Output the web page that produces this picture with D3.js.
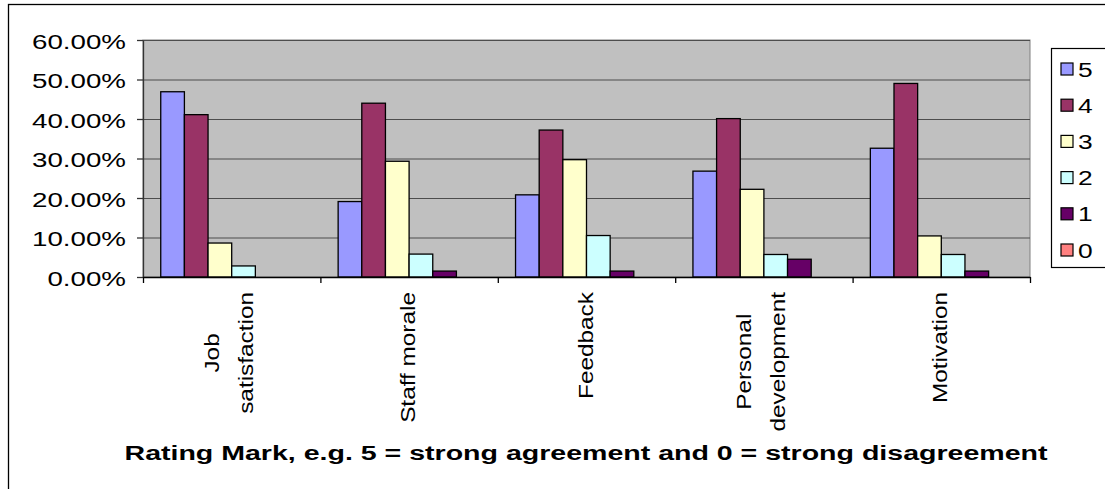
<!DOCTYPE html>
<html>
<head>
<meta charset="utf-8">
<script src="https://cdn.jsdelivr.net/npm/d3@7"></script>
<style>
  body { margin: 0; background: #fff; overflow: hidden; }
  svg text { font-family: "Liberation Sans", Arial, sans-serif; fill: #000; }
</style>
</head>
<body>
<div id="chart"></div>
<script>
// categories along the x axis, and how their labels wrap
const categories = ["Job satisfaction", "Staff morale", "Feedback", "Personal development", "Motivation"];
const categoryLines = [["Job", "satisfaction"], ["Staff morale"], ["Feedback"], ["Personal", "development"], ["Motivation"]];

// rating marks (legend order)
const ratings = ["5", "4", "3", "2", "1", "0"];
const ratingColors = ["#9999ff", "#993366", "#ffffcc", "#ccffff", "#660066", "#ff8080"];

// share of answers per rating, one value per category
const rating5 = [0.469, 0.191, 0.208, 0.268, 0.326];
const rating4 = [0.411, 0.440, 0.372, 0.401, 0.490];
const rating3 = [0.086, 0.293, 0.297, 0.222, 0.104];
const rating2 = [0.028, 0.058, 0.105, 0.057, 0.057];
const rating1 = [0.000, 0.015, 0.015, 0.045, 0.015];
const rating0 = [0.000, 0.000, 0.000, 0.000, 0.000];

const yTicks = [0, 0.1, 0.2, 0.3, 0.4, 0.5, 0.6];
const xTitle = "Rating Mark, e.g. 5 = strong agreement and 0 = strong disagreement";

const series = [rating5, rating4, rating3, rating2, rating1, rating0];

function drawChart() {
	const width = 1105, height = 489;
	const plot = {left: 143, right: 1030, top: 40, bottom: 277};
	const sx = 1.32; // the original text is wide, stretch it along the reading direction

	const svg = d3.select("#chart")
		.append("svg")
			.attr("width", width)
			.attr("height", height);

	// outer chart border
	svg.append("rect")
		.attr("x", 8.5).attr("y", 4.5)
		.attr("width", 1200).attr("height", 600)
		.attr("fill", "none")
		.attr("stroke", "#000")
		.attr("stroke-width", 1.3);

	const x0 = d3.scaleBand()
		.domain(categories)
		.range([plot.left, plot.right]);

	// 6 bars per group, gap width 150%
	const x1 = d3.scaleBand()
		.domain(ratings)
		.range([0, x0.bandwidth()])
		.paddingOuter(0.75);

	const y = d3.scaleLinear()
		.domain([0, 0.6])
		.range([plot.bottom, plot.top]);

	// plot area
	svg.append("rect")
		.attr("x", plot.left).attr("y", plot.top)
		.attr("width", plot.right - plot.left)
		.attr("height", plot.bottom - plot.top)
		.attr("fill", "#c0c0c0")
		.attr("stroke", "#808080");

	// gridlines
	svg.append("g")
		.selectAll("line")
		.data(yTicks.slice(1))
		.enter()
		.append("line")
			.attr("x1", plot.left).attr("x2", plot.right)
			.attr("y1", d => y(d) + 0.5).attr("y2", d => y(d) + 0.5)
			.attr("stroke", "#4d4d4d")
			.attr("stroke-width", 1.2);

	// bars
	const groups = svg.append("g")
		.selectAll("g")
		.data(categories)
		.enter()
		.append("g")
			.attr("transform", d => "translate(" + x0(d) + ",0)");

	groups.selectAll("rect")
		.data((c, ci) => ratings.map((r, ri) => ({rating: r, color: ratingColors[ri], value: series[ri][ci]}))
			.filter(d => d.value > 0))
		.enter()
		.append("rect")
			.attr("x", d => x1(d.rating))
			.attr("y", d => y(d.value))
			.attr("width", x1.bandwidth())
			.attr("height", d => y(0) - y(d.value))
			.attr("fill", d => d.color)
			.attr("stroke", "#000")
			.attr("stroke-width", 1.3);

	// y axis
	const yAxis = svg.append("g")
		.attr("transform", "translate(" + plot.left + ",0)")
		.call(d3.axisLeft(y).tickValues(yTicks).tickFormat(d3.format(".2%")).tickSize(6).tickSizeOuter(0));
	yAxis.select(".domain").attr("stroke", "#333").attr("stroke-width", 1.3);
	yAxis.selectAll(".tick line").attr("stroke", "#333").attr("stroke-width", 1.3);
	yAxis.selectAll(".tick text")
		.attr("x", null).attr("dy", null)
		.attr("transform", "translate(-17,8) scale(" + sx + ",1)")
		.style("font-size", "21px")
		.style("font-family", '"Liberation Sans", Arial, sans-serif');

	// x axis, ticks sit between the categories
	const xEdge = d3.scaleLinear().domain([0, categories.length]).range([plot.left, plot.right]);
	const xAxis = svg.append("g")
		.attr("transform", "translate(0," + plot.bottom + ")")
		.call(d3.axisBottom(xEdge).ticks(categories.length).tickFormat("").tickSize(6).tickSizeOuter(0));
	xAxis.select(".domain").attr("stroke", "#000").attr("stroke-width", 1.3);
	xAxis.selectAll(".tick line").attr("stroke", "#000").attr("stroke-width", 1.3);

	// rotated category labels, top of the longest line at labelTop
	const labelTop = 292, lineGap = 34, labelStretch = 1.16;
	categories.forEach((c, ci) => {
		const lines = categoryLines[ci];
		const cx = x0(c) + x0.bandwidth() / 2;
		const texts = lines.map((ln, li) => {
			const bx = cx + 6 + (li - (lines.length - 1) / 2) * lineGap - (lines.length > 1 ? 2 : 0);
			return svg.append("text")
				.attr("text-anchor", "middle")
				.style("font-size", "21px")
				.attr("data-bx", bx)
				.text(ln);
		});
		const maxLen = d3.max(texts, t => t.node().getComputedTextLength()) * labelStretch;
		texts.forEach(t => {
			t.attr("transform", "translate(" + t.attr("data-bx") + "," + (labelTop + maxLen / 2) + ") rotate(-90) scale(" + labelStretch + ",1)")
				.attr("data-bx", null);
		});
	});

	// axis title
	svg.append("text")
		.attr("text-anchor", "middle")
		.attr("transform", "translate(586,460) scale(1.36,1)")
		.style("font-size", "21px")
		.style("font-weight", "bold")
		.text(xTitle);

	// legend
	const legend = svg.append("g");
	legend.append("rect")
		.attr("x", 1051.5).attr("y", 48.5)
		.attr("width", 80).attr("height", 219)
		.attr("fill", "#fff")
		.attr("stroke", "#000")
		.attr("stroke-width", 1.2);

	const ly = d3.scalePoint().domain(ratings).range([69, 250]);
	const items = legend.selectAll(".item")
		.data(ratings)
		.enter()
		.append("g")
			.attr("class", "item")
			.attr("transform", d => "translate(0," + ly(d) + ")");
	items.append("rect")
		.attr("x", 1061).attr("y", -6)
		.attr("width", 12).attr("height", 12)
		.attr("fill", (d, i) => ratingColors[i])
		.attr("stroke", "#000")
		.attr("stroke-width", 1.2);
	items.append("text")
		.attr("transform", "translate(1078,7.5) scale(" + sx + ",1)")
		.style("font-size", "20px")
		.text(d => d);
}

function whenDocumentLoaded(action) {
	if (document.readyState === "loading") {
		document.addEventListener("DOMContentLoaded", action);
	} else {
		action();
	}
}

whenDocumentLoaded(drawChart);
</script>
</body>
</html>
